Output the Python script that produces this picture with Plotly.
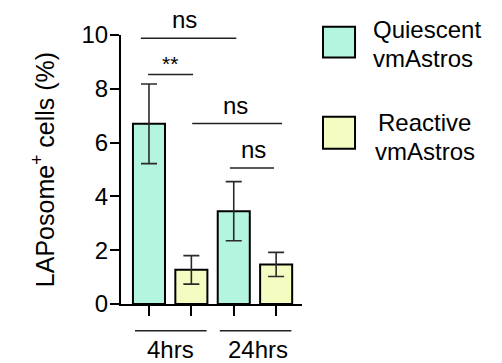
import plotly.graph_objects as go

# ---- data ----
groups = ["4hrs", "24hrs"]
series_names = ["Quiescent vmAstros", "Reactive vmAstros"]
quiescent_mean = [6.7, 3.45]
quiescent_err = [1.48, 1.1]
reactive_mean = [1.27, 1.47]
reactive_err = [0.53, 0.45]
y_ticks = [0, 2, 4, 6, 8, 10]

# significance comparisons (bar-index based x, y in data units)
comp_labels = ["ns", "**", "ns", "ns"]
comp_x0 = [-0.19, -0.02, 1.02, 1.91]
comp_x1 = [2.06, 1.04, 3.14, 2.95]
comp_y = [9.88, 8.53, 6.71, 5.06]
comp_text_x = [0.83, 0.5, 2.03, 2.46]

colors = ["#b3f5df", "#f5fcc2"]
FONT = "Arial, Liberation Sans, sans-serif"
YMAX = 10

fig = go.Figure()
means = [quiescent_mean, reactive_mean]
errs = [quiescent_err, reactive_err]
for j in range(2):
    xs = [2 * i + j for i in range(len(groups))]
    fig.add_trace(go.Bar(
        x=xs, y=means[j], width=0.756, name=series_names[j],
        marker=dict(color=colors[j], line=dict(color="black", width=2)),
        error_y=dict(type="data", array=errs[j], visible=True,
                     color="#2a2a2a", thickness=1.6, width=8),
        showlegend=False, hoverinfo="skip",
    ))

shapes = []
annotations = []
# significance brackets
for lab, x0, x1, y, tx in zip(comp_labels, comp_x0, comp_x1, comp_y, comp_text_x):
    shapes.append(dict(type="line", xref="x", yref="y", x0=x0, x1=x1, y0=y, y1=y,
                       line=dict(color="#222", width=1.5)))
    annotations.append(dict(x=tx, y=y, xref="x", yref="y", text=lab, showarrow=False,
                            yanchor="bottom", yshift=3 if lab == "ns" else -2,
                            font=dict(family=FONT, size=24 if lab == "ns" else 21, color="black")))

# group labels under the axis
for i, g in enumerate(groups):
    c = 2 * i + 0.5
    shapes.append(dict(type="line", xref="x", yref="paper", x0=c - 0.83, x1=c + 0.86,
                       y0=-0.099, y1=-0.099, line=dict(color="#222", width=1.5)))
    annotations.append(dict(x=c + (0.07 if i else 0), y=-0.17, xref="x", yref="paper", text=g,
                            showarrow=False, yanchor="middle",
                            font=dict(family=FONT, size=24, color="black")))

# custom legend
leg_sq = [(1.116, 1.293, 0.916, 1.031), (1.116, 1.293, 0.577, 0.696)]
leg_text = [[("Quiescent", 1.385, 1.021), ("vmAstros", 1.385, 0.914)],
            [("Reactive", 1.415, 0.674), ("vmAstros", 1.398, 0.566)]]
for j in range(2):
    x0, x1, y0, y1 = leg_sq[j]
    shapes.append(dict(type="rect", xref="paper", yref="paper", x0=x0, x1=x1, y0=y0, y1=y1,
                       fillcolor=colors[j], line=dict(color="black", width=2)))
    for t, tx, ty in leg_text[j]:
        annotations.append(dict(x=tx, y=ty, xref="paper", yref="paper", text=t,
                                showarrow=False, xanchor="left", yanchor="middle",
                                borderpad=0,
                                font=dict(family=FONT, size=24, color="black")))

fig.update_layout(
    width=502, height=363,
    margin=dict(l=121, r=200, t=35, b=59),
    plot_bgcolor="white", paper_bgcolor="white",
    font=dict(family=FONT, size=22, color="black"),
    barmode="overlay",
    shapes=shapes, annotations=annotations,
    xaxis=dict(range=[-0.66, 3.61], tickvals=[0, 1, 2, 3], showticklabels=False,
               ticks="outside", ticklen=10, tickwidth=2, tickcolor="black",
               showline=True, linecolor="black", linewidth=2, showgrid=False, zeroline=False),
    yaxis=dict(range=[0, YMAX], tickvals=y_ticks, ticks="outside", ticklen=9, tickwidth=2,
               tickcolor="black", showline=True, linecolor="black", linewidth=2,
               showgrid=False, zeroline=False, tickfont=dict(size=24),
               ticklabelstandoff=-3,
               title=dict(text="LAPosome<sup>+</sup> cells (%)", standoff=20,
                          font=dict(size=25))),
)
fig.write_html("out.html", config={"displayModeBar": False},
               post_script="document.body.style.margin='0';")
